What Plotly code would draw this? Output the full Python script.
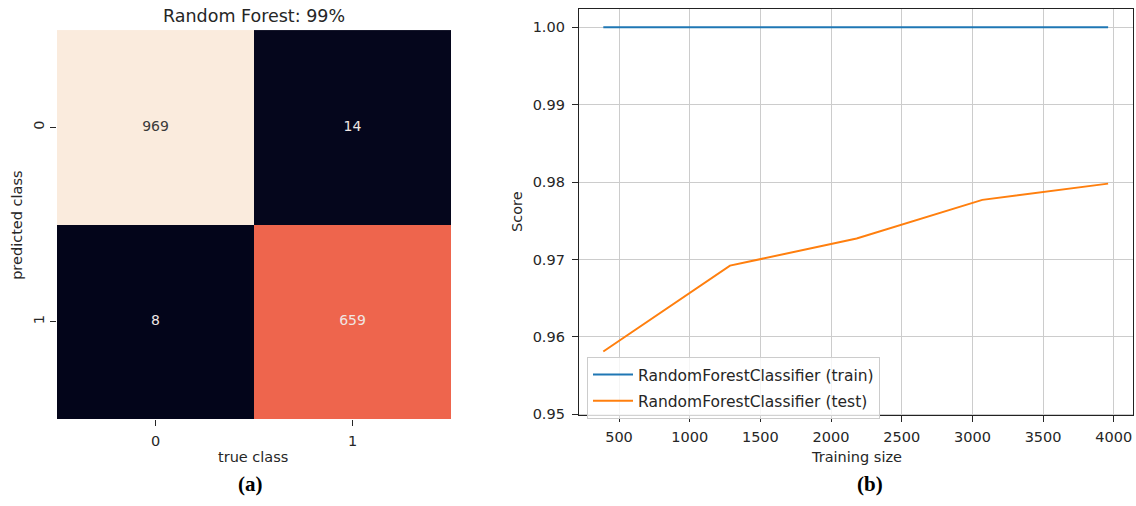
import plotly.graph_objects as go

# ---- confusion matrix (panel a) ----
classes = [0, 1]
class_labels = ["0", "1"]
confusion = [[969, 14],
             [8, 659]]

# ---- learning curve (panel b) ----
train_sizes = [389, 1285, 2181, 3070, 3960]
train_scores = [1.0, 1.0, 1.0, 1.0, 1.0]
test_scores = [0.9581, 0.9692, 0.9727, 0.9777, 0.9798]
x_ticks = [500, 1000, 1500, 2000, 2500, 3000, 3500, 4000]
y_ticks = [0.95, 0.96, 0.97, 0.98, 0.99, 1.00]

W, H = 1136, 506
FONT = "DejaVu Sans"
TXT = "#262626"

# seaborn "rocket" colormap
rocket = [
    [0.0, "#03051A"], [1 / 7, "#35193E"], [2 / 7, "#701F57"], [3 / 7, "#AD1759"],
    [4 / 7, "#E13342"], [5 / 7, "#F37651"], [6 / 7, "#F6B48F"], [1.0, "#FAEBDD"],
]

flat = [v for row in confusion for v in row]
zmin, zmax = min(flat), max(flat)

fig = go.Figure()

fig.add_trace(go.Heatmap(
    z=confusion, x=classes, y=classes, colorscale=rocket,
    zmin=zmin, zmax=zmax, showscale=False, xgap=0, ygap=0,
    xaxis="x", yaxis="y", hoverinfo="z",
))

# cell counts, dark text on light cells and light text on dark cells
cx, cy, ct, cc = [], [], [], []
for i, row in enumerate(confusion):
    for j, v in enumerate(row):
        cx.append(classes[j])
        cy.append(classes[i])
        ct.append(str(v))
        frac = (v - zmin) / (zmax - zmin)
        cc.append("#3a3a3a" if frac > 0.8 else "#f0e6e3")
fig.add_trace(go.Scatter(
    x=cx, y=cy, text=ct, mode="text",
    textfont=dict(family=FONT, size=14, color=cc),
    xaxis="x", yaxis="y", showlegend=False, hoverinfo="skip",
))

fig.add_trace(go.Scatter(
    x=train_sizes, y=train_scores, mode="lines",
    name="RandomForestClassifier (train)", legendgroup="train",
    line=dict(color="#1f77b4", width=2),
    xaxis="x2", yaxis="y2",
))
fig.add_trace(go.Scatter(
    x=train_sizes, y=test_scores, mode="lines",
    name="RandomForestClassifier (test)", legendgroup="test",
    line=dict(color="#ff7f0e", width=2),
    xaxis="x2", yaxis="y2",
))

tick_font = dict(family=FONT, size=14.5, color=TXT)

fig.update_layout(
    width=W, height=H,
    margin=dict(l=0, r=0, t=0, b=0),
    paper_bgcolor="white", plot_bgcolor="white",
    font=dict(family=FONT, color=TXT),
    xaxis=dict(
        domain=[57 / W, 451 / W], range=[-0.5, 1.5],
        tickvals=classes, ticktext=class_labels,
        ticks="outside", ticklen=6, tickwidth=1.2, tickcolor=TXT,
        showgrid=False, zeroline=False, showline=False,
        tickfont=tick_font, fixedrange=True, ticklabelstandoff=2,
    ),
    yaxis=dict(
        domain=[1 - 425 / H, 1 - 30.5 / H], range=[1.5, -0.5],
        tickvals=classes, ticktext=class_labels, tickangle=-90,
        ticks="outside", ticklen=6, tickwidth=1.2, tickcolor=TXT,
        showgrid=False, zeroline=False, showline=False,
        tickfont=tick_font, fixedrange=True,
    ),
    xaxis2=dict(
        domain=[579 / W, 1133 / W], range=[217, 4136],
        tickvals=x_ticks, ticks="outside", ticklen=6, tickwidth=1.2,
        tickcolor=TXT, showgrid=True, gridcolor="#cccccc", gridwidth=1.2,
        zeroline=False, showline=True, linecolor="#222222", linewidth=1.3,
        mirror=True, tickfont=tick_font, anchor="y2", ticklabelstandoff=2,
    ),
    yaxis2=dict(
        domain=[1 - 421 / H, 1 - 9.3 / H], range=[0.94987, 1.00235],
        tickvals=y_ticks, tickformat=".2f", ticks="outside", ticklen=6,
        tickwidth=1.2, tickcolor=TXT, showgrid=True, gridcolor="#cccccc",
        gridwidth=1.2, zeroline=False, showline=True, linecolor="#222222",
        linewidth=1.3, mirror=True, tickfont=tick_font, anchor="x2",
        ticklabelstandoff=4,
    ),
    legend=dict(
        x=587 / W, y=1 - 362 / H, xanchor="left", yanchor="top",
        bgcolor="rgba(255,255,255,0.8)", bordercolor="#cccccc", borderwidth=1,
        font=dict(family=FONT, size=15.5, color=TXT),
        itemwidth=40, tracegroupgap=3,
    ),
    showlegend=True,
)


def label(text, x, y, size=14.5, angle=0, family=FONT, bold=False):
    fig.add_annotation(
        text=f"<b>{text}</b>" if bold else text,
        x=x / W, y=1 - y / H, xref="paper", yref="paper",
        showarrow=False, textangle=angle,
        font=dict(family=family, size=size, color="#000000" if bold else TXT),
        xanchor="center", yanchor="middle",
    )


label("Random Forest: 99%", 254, 16, size=17.5)
label("true class", 253, 463)
label("predicted class", 17, 229, angle=-90)
label("Training size", 856, 463)
label("Score", 517, 215, angle=-90)
label("(a)", 250, 491, size=21, family="Liberation Serif", bold=True)
label("(b)", 870, 491, size=21, family="Liberation Serif", bold=True)

fig.write_html("out.html")
